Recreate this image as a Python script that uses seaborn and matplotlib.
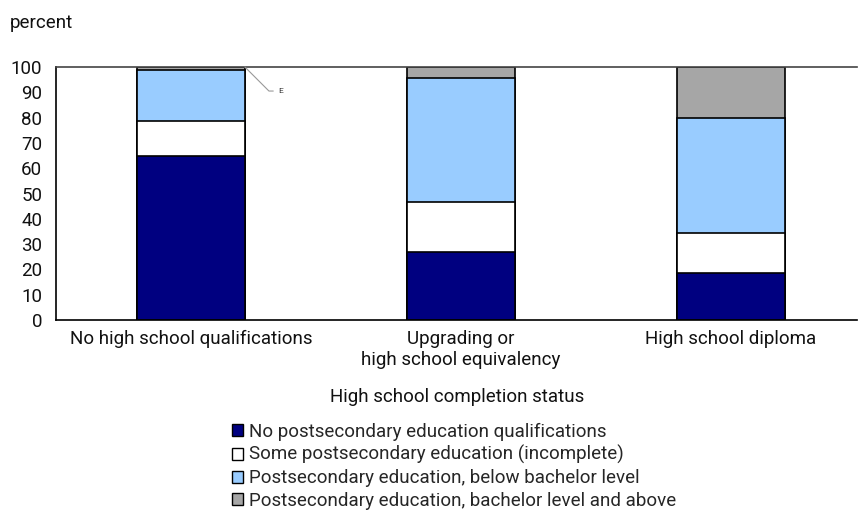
import numpy as np
import pandas as pd
import matplotlib
matplotlib.use("Agg")
import matplotlib.pyplot as plt
import seaborn as sns

# valores (percent)
categorias = ["No high school qualifications",
              "Upgrading or\nhigh school equivalency",
              "High school diploma"]
series = ["No postsecondary education qualifications",
          "Some postsecondary education (incomplete)",
          "Postsecondary education, below bachelor level",
          "Postsecondary education, bachelor level and above"]
sem_qualif = [65.0, 27.0, 18.7]
incompleta = [13.5, 19.5, 15.8]
abaixo_bach = [20.5, 49.0, 45.3]
bach_mais = [1.0, 4.5, 20.2]
cores = ["#000080", "#FFFFFF", "#99CCFF", "#A6A6A6"]

sns.set_theme(style="white")
plt.rcParams["font.family"] = ["Roboto", "DejaVu Sans"]
fs = 13.5

fig = plt.figure(figsize=(8.58, 5.15), dpi=100)
ax = fig.add_axes([0.0653, 0.3786, 0.934, 0.4913])

valores = [sem_qualif, incompleta, abaixo_bach, bach_mais]
acumulado = np.cumsum(np.array(valores), axis=0)

# barras empilhadas: desenha do total para baixo
for i in range(len(series) - 1, -1, -1):
    df = pd.DataFrame({"cat": categorias, "val": acumulado[i]})
    sns.barplot(data=df, x="cat", y="val", color=cores[i], saturation=1,
                edgecolor="black", linewidth=1.2, width=0.4, ax=ax)

ax.set_xlim(-0.5, 2.47)
ax.set_ylim(0, 100)
ax.set_yticks(range(0, 101, 10))
ax.tick_params(axis="both", length=0, labelsize=fs, colors="#111111")
ax.tick_params(axis="y", pad=10)
ax.tick_params(axis="x", pad=7)
for s in ["left", "bottom"]:
    ax.spines[s].set_color("black")
    ax.spines[s].set_linewidth(1.2)
ax.spines["right"].set_visible(False)
ax.spines["top"].set_color("#444444")
ax.spines["top"].set_linewidth(1.2)

ax.set_xlabel("High school completion status", fontsize=fs, labelpad=14,
              color="#111111")
ax.set_ylabel("")
fig.text(10 / 858, 1 - 23 / 515, "percent", fontsize=fs, va="center",
         color="#111111")

# nota "E" na primeira barra
ax.annotate("E", xy=(0.2, 100), xytext=(0.325, 90.5), fontsize=6,
            va="center", ha="left", color="#333333",
            arrowprops=dict(arrowstyle="-", color="#999999", lw=0.8,
                            connectionstyle="angle,angleA=0,angleB=-45,rad=0",
                            shrinkA=1.5, shrinkB=0))

handles = [plt.Rectangle((0, 0), 1, 1, facecolor=c, edgecolor="black", lw=1)
           for c in cores]
fig.legend(handles, series, loc="upper left",
           bbox_to_anchor=(224 / 858, 1 - 415 / 515), frameon=False,
           fontsize=fs, handlelength=0.6, handleheight=0.6,
           handletextpad=0.32, labelspacing=0.25, borderaxespad=0)

fig.savefig("out.png", dpi=100)
